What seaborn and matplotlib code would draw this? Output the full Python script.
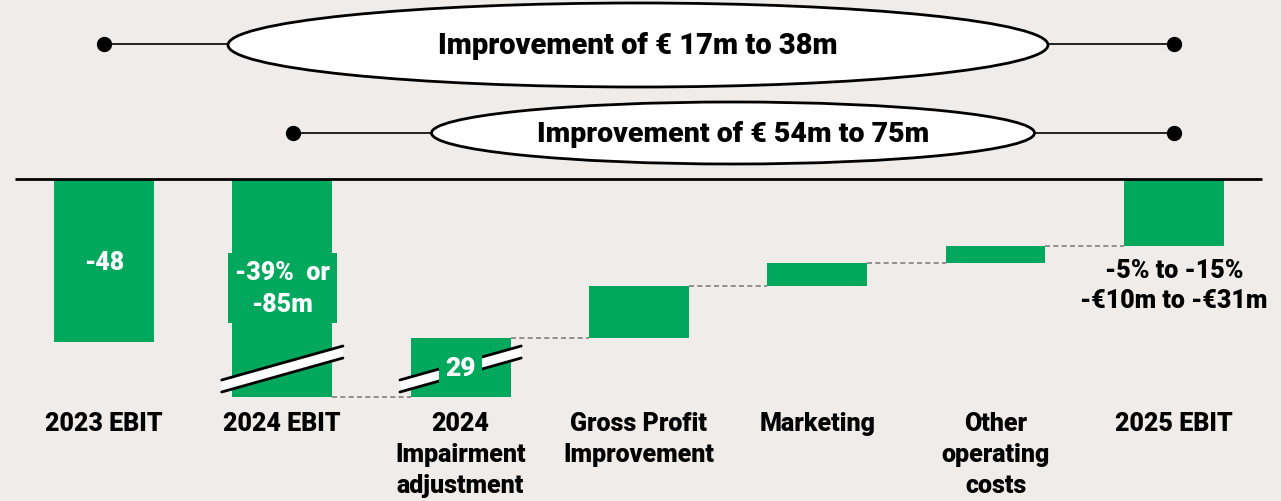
import numpy as np
import pandas as pd
import matplotlib
matplotlib.use('Agg')
import matplotlib.pyplot as plt
import seaborn as sns
from matplotlib.patches import Ellipse, Polygon

# --- data -------------------------------------------------------------
categories = ['2023 EBIT', '2024 EBIT', '2024\nImpairment\nadjustment',
              'Gross Profit\nImprovement', 'Marketing',
              'Other\noperating\ncosts', '2025 EBIT']
ebit_2023 = -48
ebit_2024_shown = -64.1          # drawn with a broken bar, real value -85m
bridge_steps = [17.3, 15.3, 6.8, 5.0]
value_labels = ['-48', '-39%  or\n-85m', '29']
ebit_2025_label = '-5% to -15%\n-€10m to -€31m'
bracket_labels = ['Improvement of € 17m to 38m', 'Improvement of € 54m to 75m']

# waterfall levels
levels = np.cumsum([ebit_2024_shown] + bridge_steps)
ebit_2025 = levels[-1]
bottoms = [ebit_2023, ebit_2024_shown] + list(levels[:-1]) + [ebit_2025]
tops = [0, 0] + list(levels[1:]) + [0]
heights = [t - b for t, b in zip(tops, bottoms)]
df = pd.DataFrame({'cat': categories, 'height': heights})

# --- style ------------------------------------------------------------
bg = '#F0ECE9'
green = '#00A85E'
sns.set_theme(style='white')
plt.rcParams['font.family'] = ['Roboto', 'DejaVu Sans']
W = 'heavy'

fig = plt.figure(figsize=(12.81, 5.02), dpi=100, facecolor=bg)
ax = fig.add_axes([0, 0, 1, 1])
ax.set_facecolor(bg)

# pixel -> data helpers (layout only)
step_px, x0_px, y0_px, unit_px = 178.3, 104, 180, 3.4
def X(px):
    return (px - x0_px) / step_px
def Y(py):
    return -(py - y0_px) / unit_px

sns.barplot(data=df, x='cat', y='height', bottom=bottoms, order=categories,
            color=green, saturation=1, width=0.56, errorbar=None,
            linewidth=0, ax=ax)

ax.set_xlim(X(0), X(1281))
ax.set_ylim(Y(502), Y(0))
ax.axis('off')

# baseline
ax.plot([X(15), X(1262)], [0, 0], color='black', lw=2, solid_capstyle='butt')

# dashed connectors
hw = 0.28
for i, lv in enumerate(levels):
    ax.plot([i + 1 + hw, i + 2 - hw], [lv, lv], color='#808080', lw=1.2,
            ls=(0, (3, 2)))

# category labels
for i, c in enumerate(categories):
    ax.text(i, Y(412), c, ha='center', va='top', fontsize=18,
            fontweight=W, color='black', linespacing=1.38)

# broken-bar marks
for i in [1, 2]:
    xl, xr = i - 0.34, i + 0.34
    yl, yr = Y(387), Y(353)
    d = 6 / unit_px
    poly = Polygon([[xl, yl - d], [xr, yr - d], [xr, yr + d], [xl, yl + d]],
                   closed=True, facecolor='white', edgecolor='none', zorder=3)
    ax.add_patch(poly)
    ax.plot([xl, xr], [yl + d, yr + d], color='black', lw=2, zorder=4)
    ax.plot([xl, xr], [yl - d, yr - d], color='black', lw=2, zorder=4)

# value labels
ax.text(0, Y(263), value_labels[0], ha='center', va='center', fontsize=18,
        fontweight=W, color='white')
ax.text(1, Y(289), value_labels[1], ha='center', va='center', fontsize=18,
        fontweight=W, color='white', linespacing=1.4,
        bbox=dict(boxstyle='square,pad=0.28', fc=green, ec='none'), zorder=5)
ax.text(2, Y(369), value_labels[2], ha='center', va='center', fontsize=19,
        fontweight=W, color='white',
        bbox=dict(boxstyle='square,pad=0.25', fc=green, ec='none'), zorder=5)
ax.text(6, Y(286), ebit_2025_label, ha='center', va='center', fontsize=18,
        fontweight=W, color='black', linespacing=1.35)

# improvement brackets
brackets = [
    dict(x_from=0, x_to=6, cy=45, ell=(638, 46, 820, 84), size=21),
    dict(x_from=1.06, x_to=6, cy=134, ell=(733, 134, 603, 62), size=20.5),
]
for b, label in zip(brackets, bracket_labels):
    ecx, ecy, ew, eh = b['ell']
    yb = Y(b['cy'])
    left_edge = X(ecx - ew / 2)
    right_edge = X(ecx + ew / 2)
    ax.plot([b['x_from'], left_edge], [yb, yb], color='black', lw=1.2)
    ax.plot([right_edge, b['x_to']], [yb, yb], color='black', lw=1.2)
    ax.plot([b['x_from'], b['x_to']], [yb, yb], 'o', color='black', ms=10,
            ls='none')
    ax.add_patch(Ellipse((X(ecx), Y(ecy)), ew / step_px, eh / unit_px,
                         facecolor='white', edgecolor='black', lw=2, zorder=3))
    ax.text(X(ecx), Y(ecy), label, ha='center', va='center',
            fontsize=b['size'], fontweight=W, color='black', zorder=4)

fig.savefig('out.png', dpi=100, facecolor=bg)
